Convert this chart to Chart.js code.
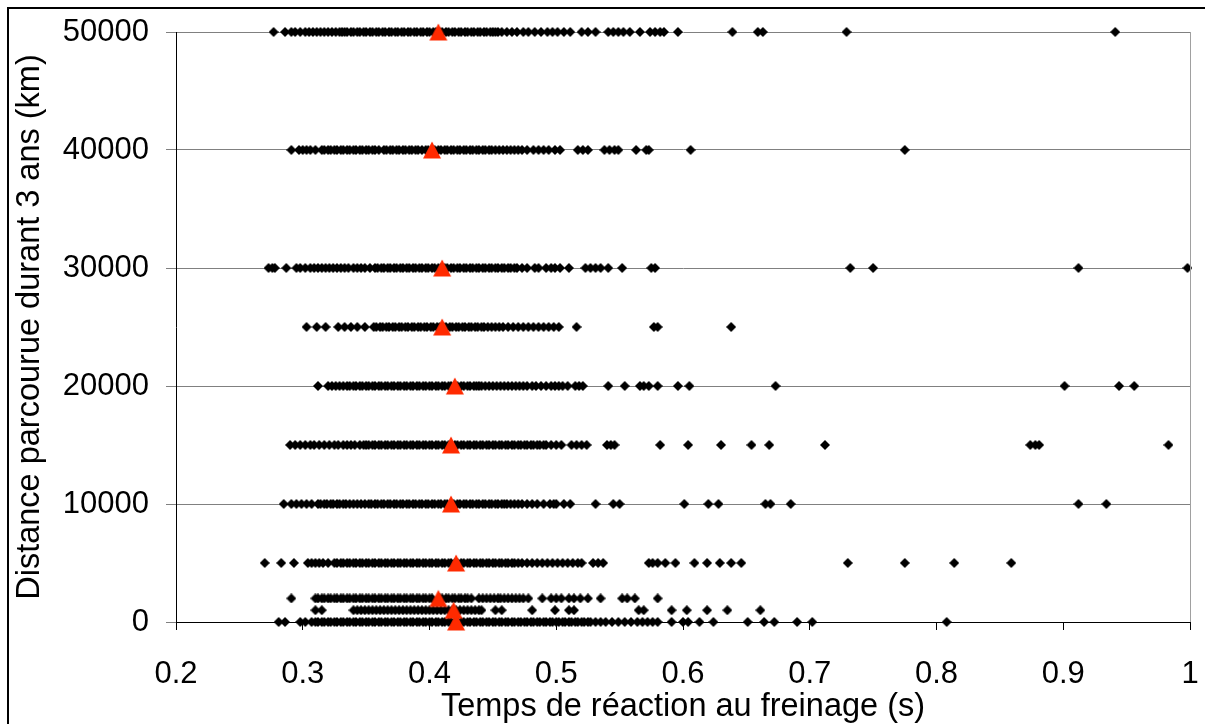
<!DOCTYPE html>
<html>
<head>
<meta charset="utf-8">
<script src="https://cdn.jsdelivr.net/npm/chart.js@4/dist/chart.umd.min.js"></script>
<style>
  html, body { margin: 0; padding: 0; background: #fff; }
  #chart { display: block; }
</style>
</head>
<body>
<canvas id="chart" width="1205" height="724"></canvas>
<script>
// reaction times (s) per distance row (km)
const times0 = [0.281, 0.286, 0.298, 0.302,
    0.307, 0.310, 0.312, 0.315, 0.317, 0.320, 0.322, 0.325, 0.327, 0.330, 0.332, 0.335, 0.337, 0.340, 0.342, 0.345, 0.347, 0.350, 0.352, 0.355, 0.357, 0.360, 0.362, 0.365, 0.367, 0.370,
    0.372, 0.375, 0.377, 0.380, 0.382, 0.385, 0.387, 0.390, 0.392, 0.395, 0.397, 0.400, 0.402, 0.405, 0.407, 0.410, 0.412, 0.415, 0.417, 0.420, 0.422, 0.425, 0.427, 0.430, 0.432, 0.435,
    0.437, 0.440, 0.442, 0.445, 0.447, 0.450, 0.452, 0.455, 0.457, 0.460, 0.462, 0.465, 0.467, 0.470, 0.472, 0.475, 0.477, 0.480, 0.482, 0.485, 0.487, 0.490, 0.492, 0.495, 0.497, 0.500,
    0.502, 0.505, 0.507, 0.510, 0.512, 0.515, 0.517, 0.520, 0.522, 0.525, 0.527,
    0.531, 0.535, 0.539, 0.544, 0.549, 0.554, 0.559, 0.564, 0.568, 0.572, 0.576, 0.580, 0.591, 0.600, 0.604, 0.613, 0.624, 0.651, 0.664, 0.672, 0.690, 0.702, 0.808];
const times1000 = [0.310, 0.315,
    0.340, 0.343, 0.346, 0.349, 0.352, 0.355, 0.358, 0.361, 0.364, 0.367, 0.370, 0.373, 0.376, 0.379, 0.382, 0.385, 0.388, 0.391, 0.394, 0.397, 0.400, 0.403, 0.406, 0.409, 0.412,
    0.415, 0.418, 0.421, 0.424, 0.427, 0.430, 0.433, 0.436, 0.439, 0.441,
    0.452, 0.457, 0.481, 0.499, 0.510, 0.514, 0.565, 0.569, 0.591, 0.603, 0.619, 0.635, 0.661];
const times2000 = [0.291,
    0.310, 0.312, 0.315, 0.317, 0.320, 0.322, 0.325, 0.327, 0.330, 0.332, 0.335, 0.337, 0.340, 0.342, 0.345, 0.347, 0.350, 0.352, 0.355, 0.357, 0.360, 0.362, 0.365, 0.367, 0.370,
    0.372, 0.375, 0.377, 0.380, 0.382, 0.385, 0.387, 0.390, 0.392, 0.395, 0.397, 0.400, 0.402,
    0.408, 0.410, 0.413, 0.415, 0.418, 0.420, 0.423, 0.425, 0.428, 0.430, 0.433,
    0.439, 0.442, 0.445, 0.448, 0.451, 0.454, 0.456, 0.459, 0.462, 0.465, 0.468, 0.471, 0.474, 0.478,
    0.489, 0.496, 0.500, 0.504, 0.510, 0.514, 0.519, 0.525, 0.535, 0.552, 0.556, 0.562, 0.580];
const times5000 = [0.270, 0.283, 0.293, 0.304, 0.307, 0.310, 0.313, 0.316, 0.320,
    0.325, 0.327, 0.330, 0.332, 0.335, 0.337, 0.340, 0.342, 0.345, 0.347, 0.350, 0.352, 0.355, 0.357, 0.360, 0.362, 0.365, 0.367, 0.370, 0.372, 0.375, 0.377, 0.380, 0.382, 0.385,
    0.387, 0.390, 0.392, 0.395, 0.397, 0.400, 0.402, 0.405, 0.407, 0.410, 0.412, 0.415, 0.417, 0.420, 0.422, 0.425, 0.427, 0.430, 0.432, 0.435, 0.437, 0.440, 0.442, 0.445, 0.447,
    0.450, 0.452, 0.455, 0.457, 0.460, 0.462, 0.465, 0.467, 0.470, 0.473,
    0.477, 0.481, 0.485, 0.489, 0.493, 0.497, 0.501, 0.505, 0.509, 0.513, 0.517, 0.520,
    0.529, 0.533, 0.537, 0.573, 0.576, 0.580, 0.586, 0.594, 0.609, 0.619, 0.629, 0.638, 0.646, 0.730, 0.775, 0.814, 0.859];
const times10000 = [0.285, 0.291, 0.295, 0.299, 0.303, 0.307,
    0.312, 0.314, 0.317, 0.319, 0.322, 0.324, 0.327, 0.329, 0.332, 0.334, 0.337, 0.340, 0.343, 0.346, 0.349, 0.352,
    0.354, 0.357, 0.359, 0.362, 0.364, 0.367, 0.369, 0.372, 0.374, 0.377, 0.379, 0.382, 0.384, 0.387, 0.389, 0.392, 0.394, 0.397, 0.399, 0.402, 0.404, 0.407, 0.409, 0.412, 0.414,
    0.417, 0.419, 0.422, 0.424, 0.427, 0.429, 0.432, 0.434, 0.437, 0.439, 0.442, 0.444, 0.447, 0.449, 0.452, 0.454, 0.457, 0.459, 0.461,
    0.464, 0.467, 0.470, 0.473, 0.477, 0.481, 0.485, 0.490, 0.495, 0.498, 0.500, 0.506, 0.511, 0.531, 0.545, 0.550, 0.601, 0.620, 0.628, 0.665, 0.669, 0.685, 0.912, 0.934];
const times15000 = [0.290, 0.294, 0.298, 0.302, 0.306, 0.309, 0.313, 0.317, 0.321, 0.325, 0.328, 0.332, 0.335, 0.338, 0.341, 0.345, 0.348,
    0.350, 0.352, 0.355, 0.357, 0.360, 0.362, 0.365, 0.367, 0.370, 0.372, 0.375, 0.377, 0.380, 0.382, 0.385, 0.387, 0.390, 0.392, 0.395, 0.397, 0.400, 0.402, 0.405, 0.407, 0.410,
    0.412, 0.415, 0.417, 0.420, 0.422, 0.425, 0.427, 0.430, 0.432, 0.435, 0.437, 0.440, 0.442, 0.445, 0.447, 0.450, 0.452, 0.455, 0.457, 0.460, 0.462, 0.465, 0.467, 0.470, 0.472,
    0.475, 0.477, 0.480, 0.482, 0.485, 0.487, 0.490, 0.492,
    0.496, 0.500, 0.504, 0.512, 0.516, 0.520, 0.524, 0.540, 0.543, 0.546, 0.582, 0.604, 0.630, 0.654, 0.668, 0.712, 0.874, 0.878, 0.881, 0.983];
const times20000 = [0.312, 0.320, 0.323, 0.326, 0.329, 0.332,
    0.335, 0.337, 0.340, 0.342, 0.345, 0.347, 0.350, 0.352, 0.355, 0.357, 0.360, 0.362, 0.365, 0.367, 0.370, 0.372, 0.375, 0.377, 0.380, 0.382, 0.385, 0.387, 0.390, 0.392, 0.395,
    0.397, 0.400, 0.402, 0.405, 0.407, 0.410, 0.412, 0.415, 0.417, 0.420, 0.422, 0.425, 0.427, 0.430, 0.432, 0.435, 0.437, 0.439,
    0.441, 0.444, 0.447, 0.450, 0.453, 0.456, 0.459, 0.462, 0.465, 0.468, 0.471, 0.474, 0.477, 0.481,
    0.484, 0.488, 0.492, 0.496, 0.499, 0.502, 0.505, 0.509, 0.515, 0.518, 0.521, 0.541, 0.554, 0.566, 0.569, 0.573, 0.580, 0.596, 0.605, 0.673, 0.901, 0.944, 0.956];
const times25000 = [0.303, 0.311, 0.318, 0.328, 0.333, 0.338, 0.343, 0.349,
    0.356, 0.358, 0.361, 0.363, 0.366, 0.368, 0.371, 0.373, 0.376, 0.378, 0.381, 0.383, 0.386, 0.388, 0.391, 0.393, 0.396, 0.398, 0.401, 0.403, 0.406, 0.408, 0.411, 0.413, 0.416,
    0.418, 0.421, 0.423, 0.426, 0.428, 0.431, 0.433, 0.436, 0.438, 0.441, 0.443, 0.446,
    0.449, 0.452, 0.455, 0.458, 0.462, 0.466, 0.470, 0.474, 0.478, 0.482, 0.486, 0.490, 0.494, 0.498, 0.502, 0.516, 0.577, 0.580, 0.638];
const times30000 = [0.273, 0.276, 0.278, 0.287, 0.295, 0.298, 0.302,
    0.306, 0.309, 0.312, 0.315, 0.318, 0.321, 0.324, 0.327, 0.330, 0.333, 0.336, 0.340, 0.343, 0.346, 0.349, 0.353,
    0.357, 0.359, 0.362, 0.364, 0.367, 0.369, 0.372, 0.374, 0.377, 0.379, 0.382, 0.384, 0.387, 0.389, 0.392, 0.394, 0.397, 0.399, 0.402, 0.404, 0.407, 0.409, 0.412, 0.414, 0.417,
    0.419, 0.422, 0.424, 0.427, 0.429, 0.432, 0.434, 0.437, 0.439, 0.442, 0.444, 0.447, 0.449, 0.452, 0.454, 0.457, 0.459, 0.462, 0.464, 0.467, 0.469,
    0.473, 0.477, 0.483, 0.486, 0.492, 0.496, 0.499, 0.503, 0.510, 0.523, 0.527, 0.531, 0.535, 0.541, 0.552, 0.575, 0.578, 0.732, 0.750, 0.912, 0.998];
const times40000 = [0.291, 0.297, 0.300, 0.303, 0.306, 0.310,
    0.315, 0.317, 0.320, 0.322, 0.325, 0.327, 0.330, 0.332, 0.335, 0.337, 0.340, 0.342, 0.345, 0.347, 0.350, 0.352, 0.355, 0.357, 0.360,
    0.364, 0.366, 0.369, 0.371, 0.374, 0.376, 0.379, 0.381, 0.384, 0.386, 0.389, 0.391, 0.394, 0.397,
    0.399, 0.402, 0.404, 0.407, 0.409, 0.412, 0.414, 0.417, 0.419, 0.422, 0.424, 0.427, 0.429, 0.432, 0.434, 0.437, 0.439, 0.442, 0.444, 0.447, 0.449,
    0.452, 0.455, 0.458, 0.461, 0.464, 0.467, 0.470, 0.473, 0.477,
    0.482, 0.486, 0.490, 0.494, 0.499, 0.503, 0.517, 0.521, 0.525, 0.538, 0.542, 0.546, 0.549, 0.563, 0.571, 0.573, 0.606, 0.775];
const times50000 = [0.277, 0.286, 0.291, 0.294, 0.298,
    0.302, 0.305, 0.308, 0.311, 0.314, 0.317, 0.320, 0.323, 0.326, 0.329, 0.331,
    0.333, 0.335, 0.338, 0.340, 0.343, 0.345, 0.348, 0.350, 0.353, 0.355, 0.358, 0.360, 0.363, 0.365, 0.368, 0.370, 0.373, 0.375, 0.378, 0.380, 0.383, 0.385, 0.388, 0.390, 0.393,
    0.395, 0.398, 0.400, 0.403, 0.405, 0.408, 0.410, 0.413, 0.415, 0.418, 0.420, 0.423, 0.425, 0.428, 0.430, 0.433, 0.435, 0.438, 0.440, 0.443, 0.445, 0.448, 0.450, 0.452, 0.454,
    0.457, 0.461, 0.465, 0.469, 0.474, 0.478, 0.483, 0.488, 0.493, 0.497, 0.501, 0.506, 0.511, 0.520, 0.525, 0.531, 0.541, 0.545, 0.549, 0.553, 0.558,
    0.566, 0.574, 0.578, 0.582, 0.585, 0.596, 0.639, 0.659, 0.663, 0.729, 0.941];

const rowDistances = [0, 1000, 2000, 5000, 10000, 15000, 20000, 25000, 30000, 40000, 50000];
const rowTimes = [times0, times1000, times2000, times5000, times10000, times15000, times20000, times25000, times30000, times40000, times50000];

// mean reaction time per row (red triangles)
const meanDistances = [0, 1000, 2000, 5000, 10000, 15000, 20000, 25000, 30000, 40000, 50000];
const meanTimes = [0.421, 0.419, 0.407, 0.421, 0.417, 0.417, 0.420, 0.410, 0.410, 0.402, 0.407];

const xTicks = { min: 0.2, max: 1, step: 0.1 };
const yTicks = { min: 0, max: 50000, step: 10000 };

const points = [];
rowDistances.forEach(function(d, i) {
    rowTimes[i].forEach(function(t) { points.push({ x: t, y: d }); });
});
const means = meanTimes.map(function(t, i) { return { x: t, y: meanDistances[i] }; });

function diamondMarker() {
    const c = document.createElement('canvas');
    c.width = 10; c.height = 10;
    const g = c.getContext('2d');
    g.fillStyle = '#000';
    g.beginPath();
    g.moveTo(5, 0); g.lineTo(10, 5); g.lineTo(5, 10); g.lineTo(0, 5);
    g.closePath();
    g.fill();
    return c;
}
function triangleMarker() {
    const c = document.createElement('canvas');
    c.width = 20; c.height = 20;
    const g = c.getContext('2d');
    g.fillStyle = '#ff2a00';
    g.beginPath();
    g.moveTo(10, 1.5); g.lineTo(19, 18.5); g.lineTo(1, 18.5);
    g.closePath();
    g.fill();
    return c;
}

const family = "'Liberation Sans', Arial, sans-serif";
const tickFont = { family: family, size: 31 };
const titleFont = { family: family, size: 32.5, lineHeight: 1 };

const framePlugin = {
    id: 'frame',
    afterDraw: function(chart) {
        const ctx = chart.ctx, a = chart.chartArea;
        ctx.save();
        ctx.strokeStyle = '#000';
        ctx.lineWidth = 2;
        ctx.beginPath();
        ctx.moveTo(8, 724); ctx.lineTo(8, 8); ctx.lineTo(1205, 8);
        ctx.stroke();
        ctx.strokeStyle = '#a0a0a0';
        ctx.lineWidth = 1;
        ctx.beginPath();
        ctx.moveTo(Math.round(a.right) + 0.5, a.top);
        ctx.lineTo(Math.round(a.right) + 0.5, a.bottom);
        ctx.stroke();
        ctx.restore();
    }
};

new Chart(document.getElementById('chart'), {
    type: 'scatter',
    data: {
        datasets: [{
            label: 'Moyenne',
            data: means,
            pointStyle: triangleMarker(),
            radius: 9,
            hoverRadius: 9,
            clip: false,
            order: 0
        }, {
            label: 'Temps de réaction',
            data: points,
            pointStyle: diamondMarker(),
            radius: 5,
            hoverRadius: 5,
            clip: false,
            order: 1
        }]
    },
    options: {
        responsive: false,
        animation: false,
        devicePixelRatio: 1,
        events: [],
        layout: { padding: { left: 0, top: 32, right: 15, bottom: 0 } },
        plugins: {
            legend: { display: false },
            tooltip: { enabled: false }
        },
        scales: {
            x: {
                type: 'linear',
                min: xTicks.min,
                max: xTicks.max,
                afterFit: function(scale) {
                    scale.height = 102;
                    scale.paddingLeft = 0;
                    scale.paddingRight = 0;
                },
                border: { color: '#000', width: 1 },
                grid: { drawOnChartArea: false, drawTicks: true, tickLength: 8, color: '#000' },
                ticks: {
                    stepSize: xTicks.step,
                    padding: 26,
                    color: '#000',
                    font: tickFont,
                    maxRotation: 0,
                    callback: function(v) { return String(Number(v.toFixed(1))); }
                },
                title: {
                    display: true,
                    text: 'Temps de réaction au freinage (s)',
                    color: '#000',
                    font: titleFont,
                    padding: { top: 0, bottom: 1 }
                }
            },
            y: {
                type: 'linear',
                min: yTicks.min,
                max: yTicks.max,
                afterFit: function(scale) {
                    scale.width = 176;
                    scale.paddingTop = 0;
                    scale.paddingBottom = 0;
                },
                border: { color: '#000', width: 1 },
                grid: { color: '#808080', tickLength: 10 },
                ticks: {
                    stepSize: yTicks.step,
                    padding: 17,
                    color: '#000',
                    font: tickFont,
                    callback: function(v) { return String(v); }
                },
                title: {
                    display: true,
                    text: 'Distance parcourue durant 3 ans (km)',
                    color: '#000',
                    font: titleFont,
                    padding: { top: 13.5, bottom: 0 }
                }
            }
        }
    },
    plugins: [framePlugin]
});
</script>
</body>
</html>
